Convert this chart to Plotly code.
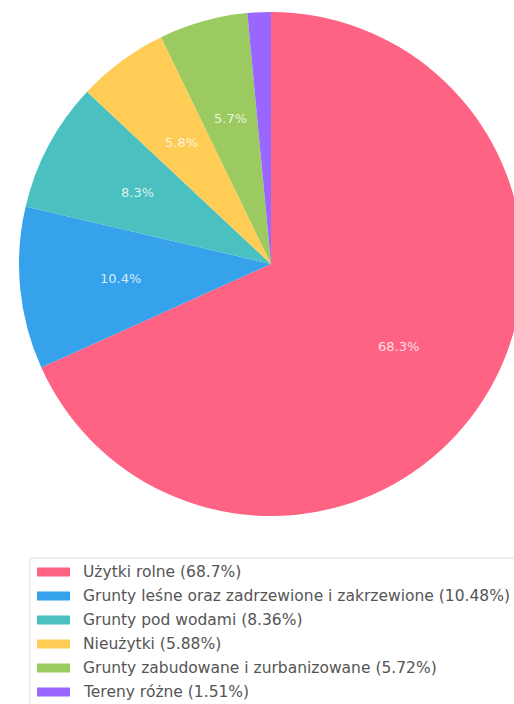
import math
import plotly.graph_objects as go

labels = ["Użytki rolne", "Grunty leśne oraz zadrzewione i zakrzewione", "Grunty pod wodami",
          "Nieużytki", "Grunty zabudowane i zurbanizowane", "Tereny różne"]
values = [68.7, 10.48, 8.36, 5.88, 5.72, 1.51]
value_labels = ["68.7", "10.48", "8.36", "5.88", "5.72", "1.51"]
colors = ["#FF6384", "#36A2EB", "#4BC0C0", "#FFCD56", "#9BCB60", "#9966FF"]

W, H = 540, 704
cx, cy, r = 271, 264, 252

fig = go.Figure(go.Pie(
    labels=labels, values=values, sort=False, direction="clockwise", rotation=0,
    marker=dict(colors=colors, line=dict(width=0)),
    textinfo="none",
    showlegend=False, hoverinfo="label+percent",
    domain=dict(x=[(cx - r) / W, (cx + r) / W], y=[1 - (cy + r) / H, 1 - (cy - r) / H]),
))

annotations = []
total = sum(values)
cum = 0.0
for v in values:
    frac = v / total
    mid = (cum + frac / 2) * 2 * math.pi
    cum += frac
    if frac < 0.05:
        continue
    px = cx + 0.6 * r * math.sin(mid)
    py = cy - 0.6 * r * math.cos(mid)
    annotations.append(dict(xref="paper", yref="paper", x=px / W, y=1 - py / H,
                            xanchor="center", yanchor="middle", showarrow=False,
                            text=f"{frac * 100:.1f}%",
                            font=dict(family="DejaVu Sans", size=13, color="rgba(255,255,255,0.8)")))

shapes = [dict(type="rect", xref="paper", yref="paper", x0=30 / W, x1=1.02, y0=-0.02, y1=1 - 558 / H,
               line=dict(color="#dddddd", width=1), fillcolor="rgba(0,0,0,0)")]
for i, (lab, vl, col) in enumerate(zip(labels, value_labels, colors)):
    yc = 572 + i * 24
    shapes.append(dict(type="rect", xref="paper", yref="paper", x0=37 / W, x1=70 / W,
                       y0=1 - (yc + 4.5) / H, y1=1 - (yc - 4.5) / H, line=dict(width=0), fillcolor=col))
    annotations.append(dict(xref="paper", yref="paper", x=81 / W, y=1 - yc / H, xanchor="left", yanchor="middle",
                            text=f"{lab} ({vl}%)", showarrow=False,
                            font=dict(family="DejaVu Sans", size=15.5, color="#555555")))

fig.update_layout(width=W, height=H, margin=dict(l=0, r=0, t=0, b=0),
                  paper_bgcolor="white", plot_bgcolor="white",
                  shapes=shapes, annotations=annotations)

fig.write_html("out.html", config={"displayModeBar": False},
               post_script="document.body.style.margin='0';document.body.style.overflow='hidden';document.documentElement.style.overflow='hidden';")
